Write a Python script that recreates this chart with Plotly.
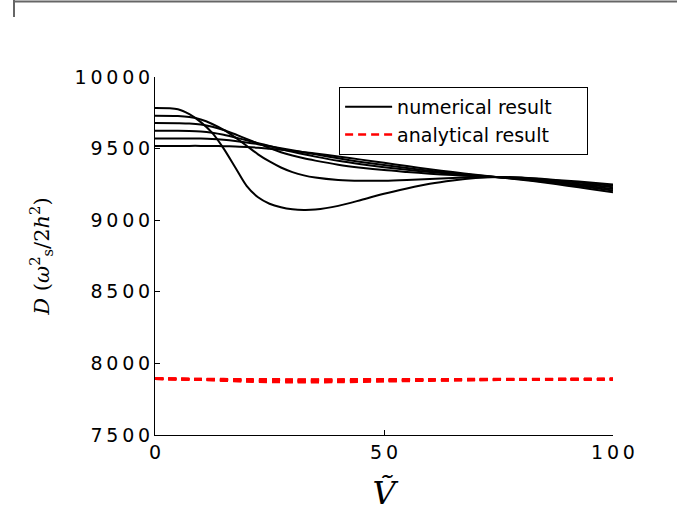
import plotly.graph_objects as go

# ---------------- data ----------------
V_num = [0, 5, 7.5, 10, 12.5, 15, 17.5, 20, 22.5, 25, 27.5, 30, 32.5, 35,
         40, 45, 50, 55, 60, 65, 70, 75, 80, 85, 90, 95, 100]

num1 = [9783, 9775, 9740, 9685, 9610, 9500, 9370, 9240, 9160, 9115, 9090, 9076, 9071, 9074,
        9100, 9141, 9185, 9222, 9255, 9278, 9294, 9301, 9298, 9287, 9276, 9263, 9250]
num2 = [9729, 9727, 9720, 9703, 9672, 9630, 9578, 9520, 9460, 9410, 9368, 9336, 9313, 9298,
        9281, 9275, 9276, 9281, 9288, 9295, 9300, 9302, 9296, 9284, 9270, 9255, 9240]
num3 = [9678, 9677, 9675, 9668, 9653, 9630, 9600, 9568, 9535, 9503, 9475, 9452, 9432, 9416,
        9388, 9367, 9350, 9337, 9325, 9315, 9307, 9300, 9290, 9276, 9261, 9246, 9230]
num4 = [9624, 9624, 9623, 9619, 9610, 9596, 9578, 9558, 9538, 9518, 9497, 9478, 9460, 9444,
        9415, 9391, 9370, 9352, 9337, 9323, 9311, 9300, 9288, 9272, 9254, 9237, 9218]
num5 = [9571, 9571, 9571, 9570, 9567, 9561, 9553, 9543, 9531, 9517, 9503, 9489, 9474, 9460,
        9432, 9407, 9385, 9364, 9345, 9329, 9314, 9300, 9286, 9268, 9249, 9229, 9207]
num6 = [9519, 9519, 9519, 9519, 9518, 9517, 9515, 9511, 9506, 9499, 9492, 9484, 9475, 9466,
        9445, 9423, 9401, 9378, 9356, 9336, 9317, 9300, 9283, 9263, 9241, 9218, 9195]

V_ana = [0, 10, 20, 30, 40, 50, 60, 70, 80, 90, 100]
ana1 = [7893, 7886, 7874, 7869, 7870, 7875, 7880, 7884, 7887, 7889, 7890]
ana2 = [7893, 7887, 7877, 7873, 7874, 7878, 7882, 7885, 7888, 7889, 7890]
ana3 = [7893, 7888, 7880, 7877, 7878, 7881, 7884, 7886, 7888, 7889, 7890]
ana4 = [7893, 7889, 7883, 7881, 7882, 7884, 7886, 7887, 7889, 7890, 7890]
ana5 = [7893, 7890, 7886, 7885, 7885, 7886, 7887, 7888, 7889, 7890, 7890]
ana6 = [7893, 7891, 7889, 7888, 7888, 7889, 7889, 7890, 7890, 7890, 7890]

x_ticks = [0, 50, 100]
y_ticks = [7500, 8000, 8500, 9000, 9500, 10000]

THIN = "\u2009"
def spaced(v):
    return THIN.join(str(v))

PAD = "\u00a0" * 5  # pads the legend box to the reference width

# ---------------- figure ----------------
fig = go.Figure()

for i, ys in enumerate([num1, num2, num3, num4, num5, num6]):
    fig.add_trace(go.Scatter(
        x=V_num, y=ys, mode="lines",
        line=dict(color="black", width=2, shape="spline", smoothing=0.8),
        name="numerical result" + PAD, showlegend=(i == 0), legendgroup="num"))

for i, ys in enumerate([ana1, ana2, ana3, ana4, ana5, ana6]):
    fig.add_trace(go.Scatter(
        x=V_ana, y=ys, mode="lines",
        line=dict(color="red", width=2.6, dash="8px,5px", shape="spline", smoothing=0.8),
        name="analytical result" + PAD, showlegend=(i == 0), legendgroup="ana"))

fig.update_layout(
    width=677, height=512,
    margin=dict(l=155, r=64, t=77, b=77, autoexpand=False),
    paper_bgcolor="white", plot_bgcolor="white",
    font=dict(family="DejaVu Sans", color="black"),
    showlegend=True,
    legend=dict(
        x=0.402, y=0.972, xanchor="left", yanchor="top",
        bgcolor="white", bordercolor="black", borderwidth=1,
        font=dict(family="DejaVu Sans", size=19, color="black"),
        tracegroupgap=0, itemwidth=47,
    ),
    xaxis=dict(
        range=[0, 100], showgrid=False, zeroline=False, automargin=False,
        showline=True, linecolor="black", linewidth=1,
        ticks="inside", ticklen=5, tickwidth=1, tickcolor="black",
        tickvals=x_ticks, ticktext=[spaced(v) for v in x_ticks],
        tickfont=dict(family="DejaVu Sans", size=19, color="black"),
        title=dict(text="<i>\u1E7C</i>", font=dict(family="DejaVu Serif", size=32, color="black"),
                   standoff=27),
    ),
    yaxis=dict(
        range=[7500, 10000], showgrid=False, zeroline=False, automargin=False,
        showline=True, linecolor="black", linewidth=1,
        ticks="inside", ticklen=5, tickwidth=1, tickcolor="black",
        tickvals=y_ticks, ticktext=[spaced(v) for v in y_ticks],
        tickfont=dict(family="DejaVu Sans", size=19, color="black"),
        title=dict(text="<i>D</i> (<i>ω</i><sup>2</sup><sub>s</sub>/2<i>h</i><sup>2</sup>)",
                   font=dict(family="DejaVu Serif", size=21, color="black"),
                   standoff=19),
    ),
)

# page frame fragment at the top-left (as in the reference image)
fig.add_shape(type="line", xref="paper", yref="paper",
              x0=(14 - 155) / 458, x1=(677 - 155) / 458, y0=(435 - 1.5) / 358, y1=(435 - 1.5) / 358,
              line=dict(color="#666666", width=2))
fig.add_shape(type="line", xref="paper", yref="paper",
              x0=(14 - 155) / 458, x1=(14 - 155) / 458, y0=(435 - 0) / 358, y1=(435 - 17) / 358,
              line=dict(color="#666666", width=2))

fig.write_html("out.html",
               config={"displayModeBar": False},
               post_script="document.body.style.margin='0';document.body.style.overflow='hidden';")
